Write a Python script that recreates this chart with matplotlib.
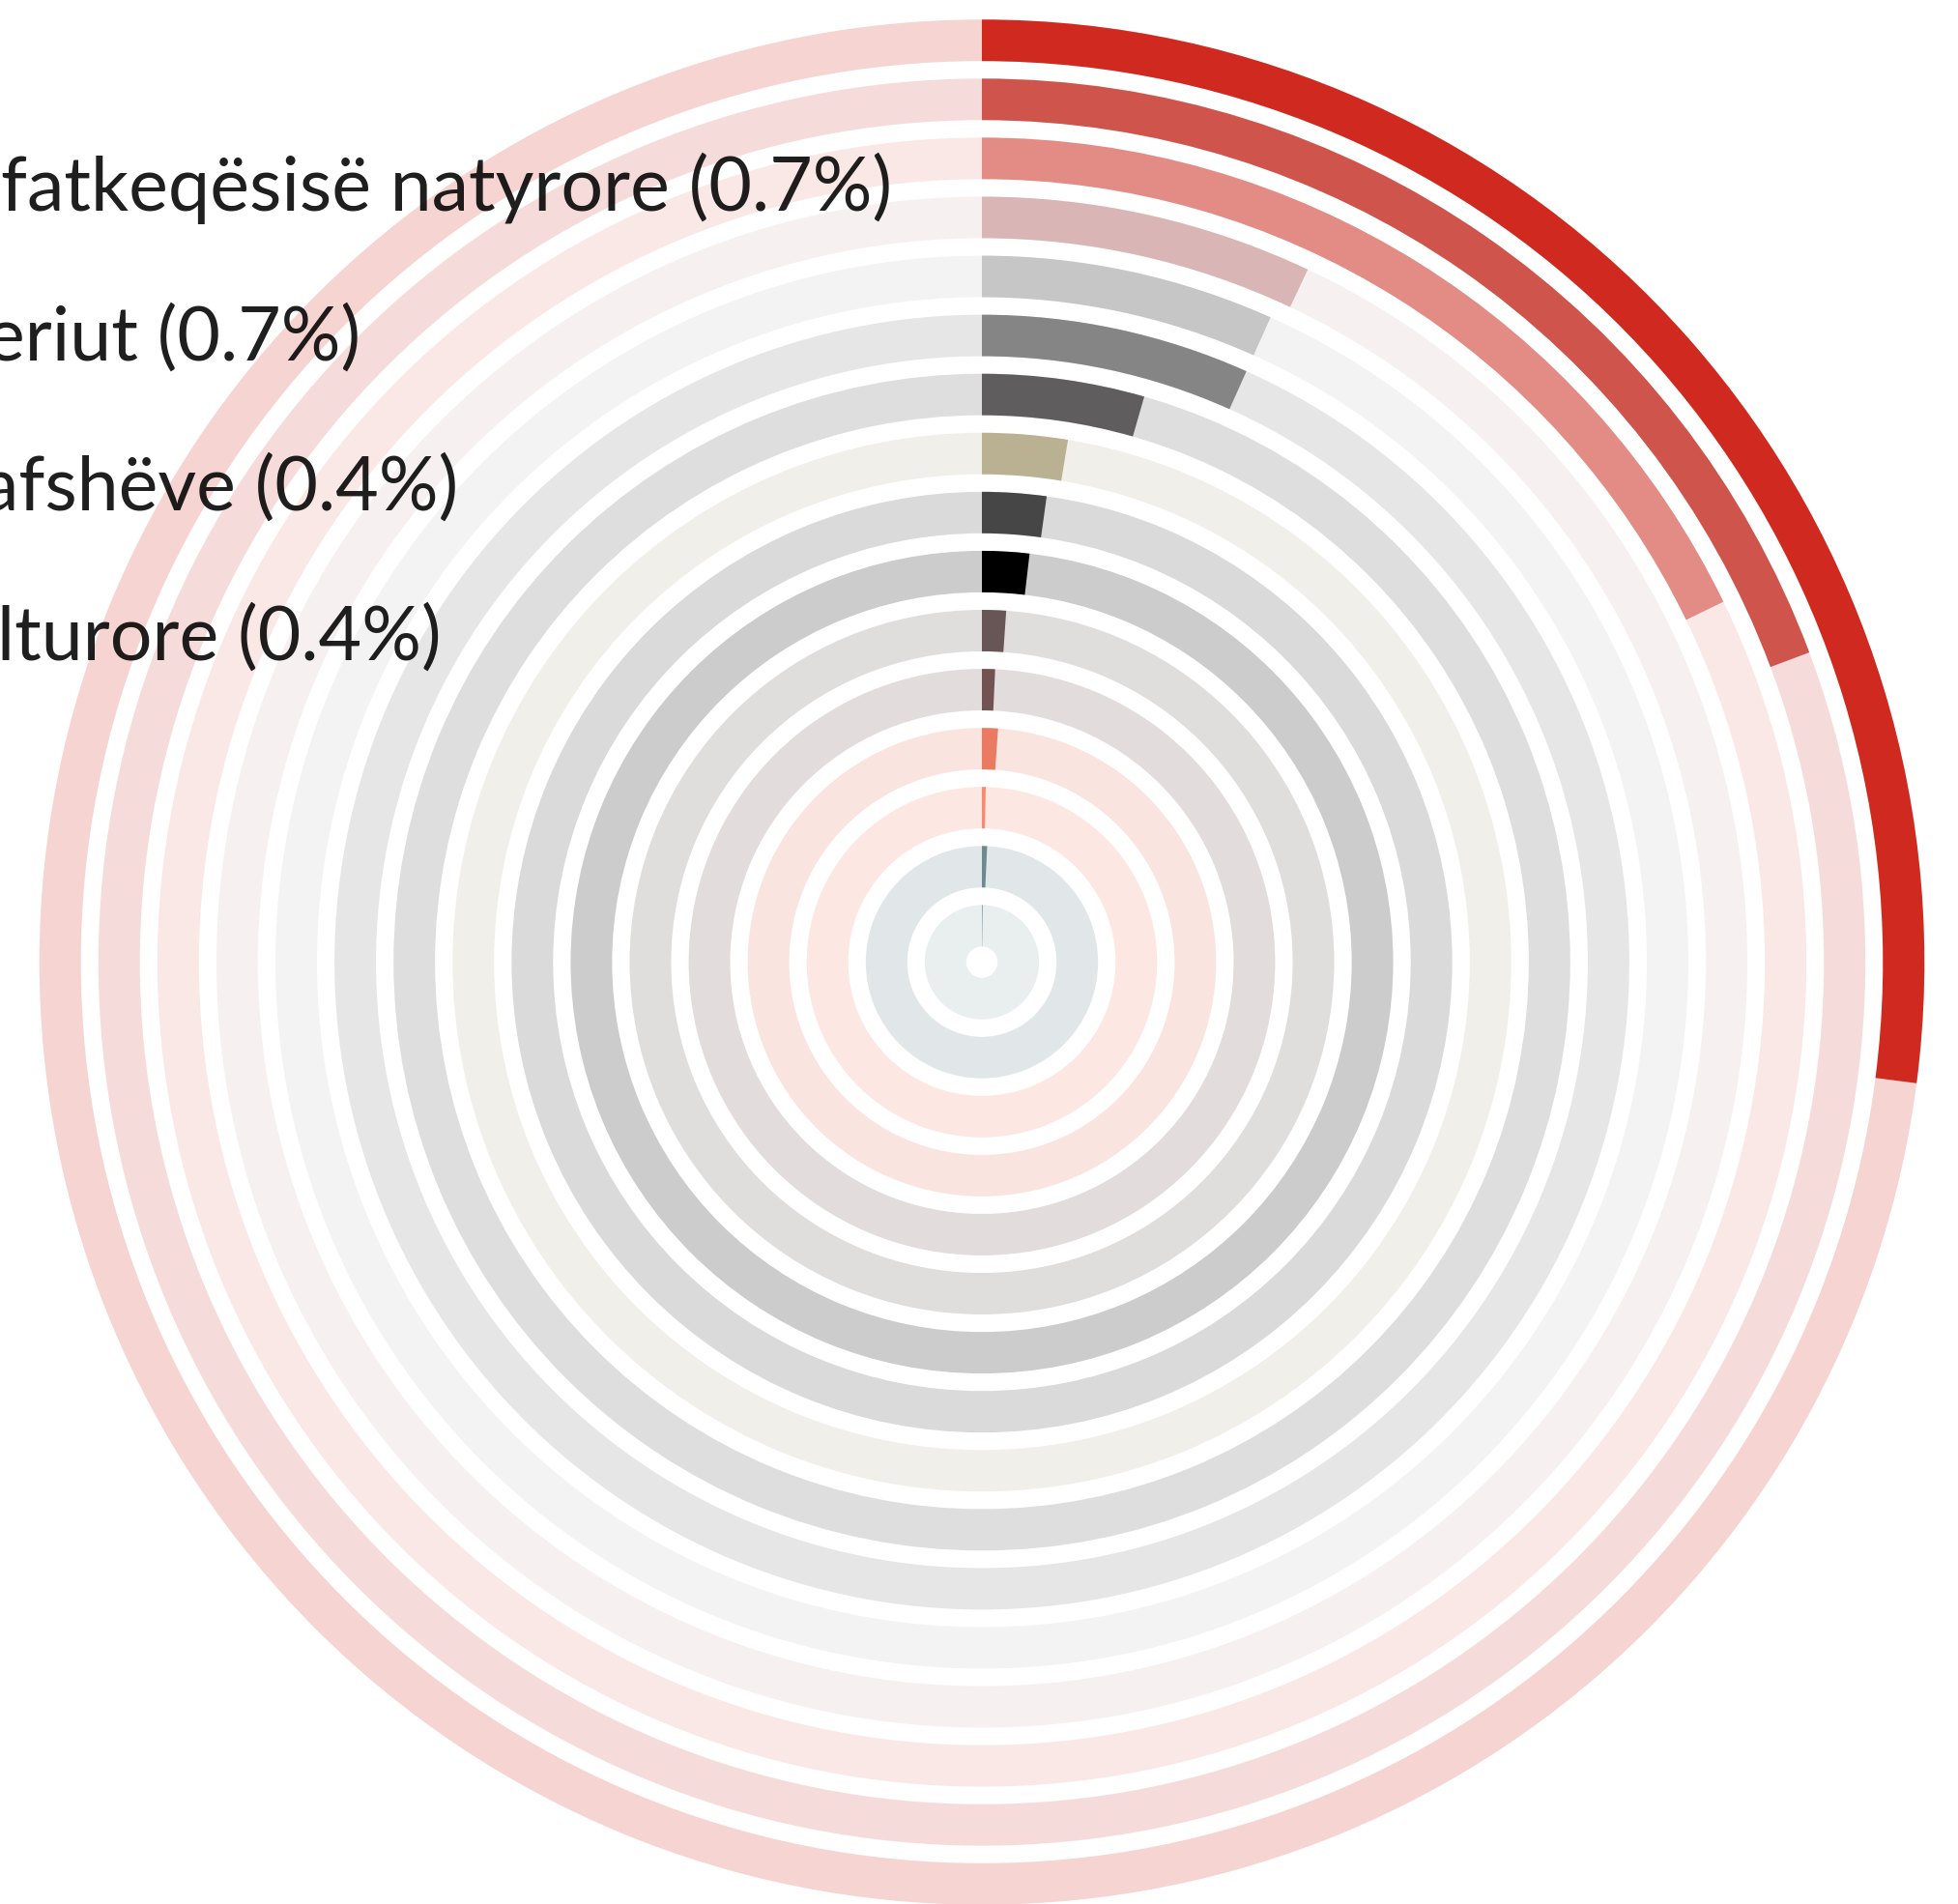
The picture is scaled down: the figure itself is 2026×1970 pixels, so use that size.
import matplotlib
matplotlib.use("Agg")
import matplotlib.pyplot as plt
import numpy as np

# ---- data (outer ring -> inner ring), share of full circle in percent ----
values = [27.05, 19.3, 17.8, 7.0, 6.7, 6.7, 4.45, 2.6, 2.2, 1.85, 1.1, 0.72, 1.1, 0.35, 0.72, 0.28]
colors = ["#d0291f", "#cf544b", "#e28c85", "#d9b6b5", "#c6c6c6", "#858585",
          "#5f5d5d", "#bab092", "#464646", "#000000", "#685656", "#735252",
          "#ea7a62", "#f78a72", "#6c8b91", "#91aab3"]
labels = ["fatkeqësisë natyrore (0.7%)", "eriut (0.7%)", "afshëve (0.4%)", "lturore (0.4%)"]

# ---- layout ----
W, H = 2026, 1970
cx, cy = 1016, 995.5          # centre of rings, pixels from top-left
R = 977.2                     # outer radius in pixels
n = len(values)
ring_offset = 0.265           # inner gap of each ring slot (ring units)
ring_height = 0.703           # thickness of each ring (ring units)

label_right = [923, 373, 474, 457]
label_base = [218, 373, 528, 683]

fig = plt.figure(figsize=(W / 100, H / 100), dpi=100)
fig.patch.set_facecolor("white")
ax = fig.add_axes([(cx - R) / W, (H - cy - R) / H, 2 * R / W, 2 * R / H],
                  projection="polar")
ax.set_theta_zero_location("N")
ax.set_theta_direction(-1)
ax.set_ylim(0, n)
ax.axis("off")

for k, (v, c) in enumerate(zip(values, colors)):
    i = n - 1 - k
    bottom = i + ring_offset
    ax.bar(0, ring_height, width=2 * np.pi, bottom=bottom, align="edge",
           color=c, alpha=0.2, linewidth=0)
    ax.bar(0, ring_height, width=v / 100 * 2 * np.pi, bottom=bottom,
           align="edge", color=c, linewidth=0)

for s, xr, yb in zip(labels, label_right, label_base):
    fig.text(xr / W, 1 - yb / H, s, ha="right", va="baseline",
             fontsize=55.5, family=["Lato", "DejaVu Sans"], color="black",
             alpha=0.88, zorder=10)

fig.savefig("out.png", dpi=100, facecolor="white")
